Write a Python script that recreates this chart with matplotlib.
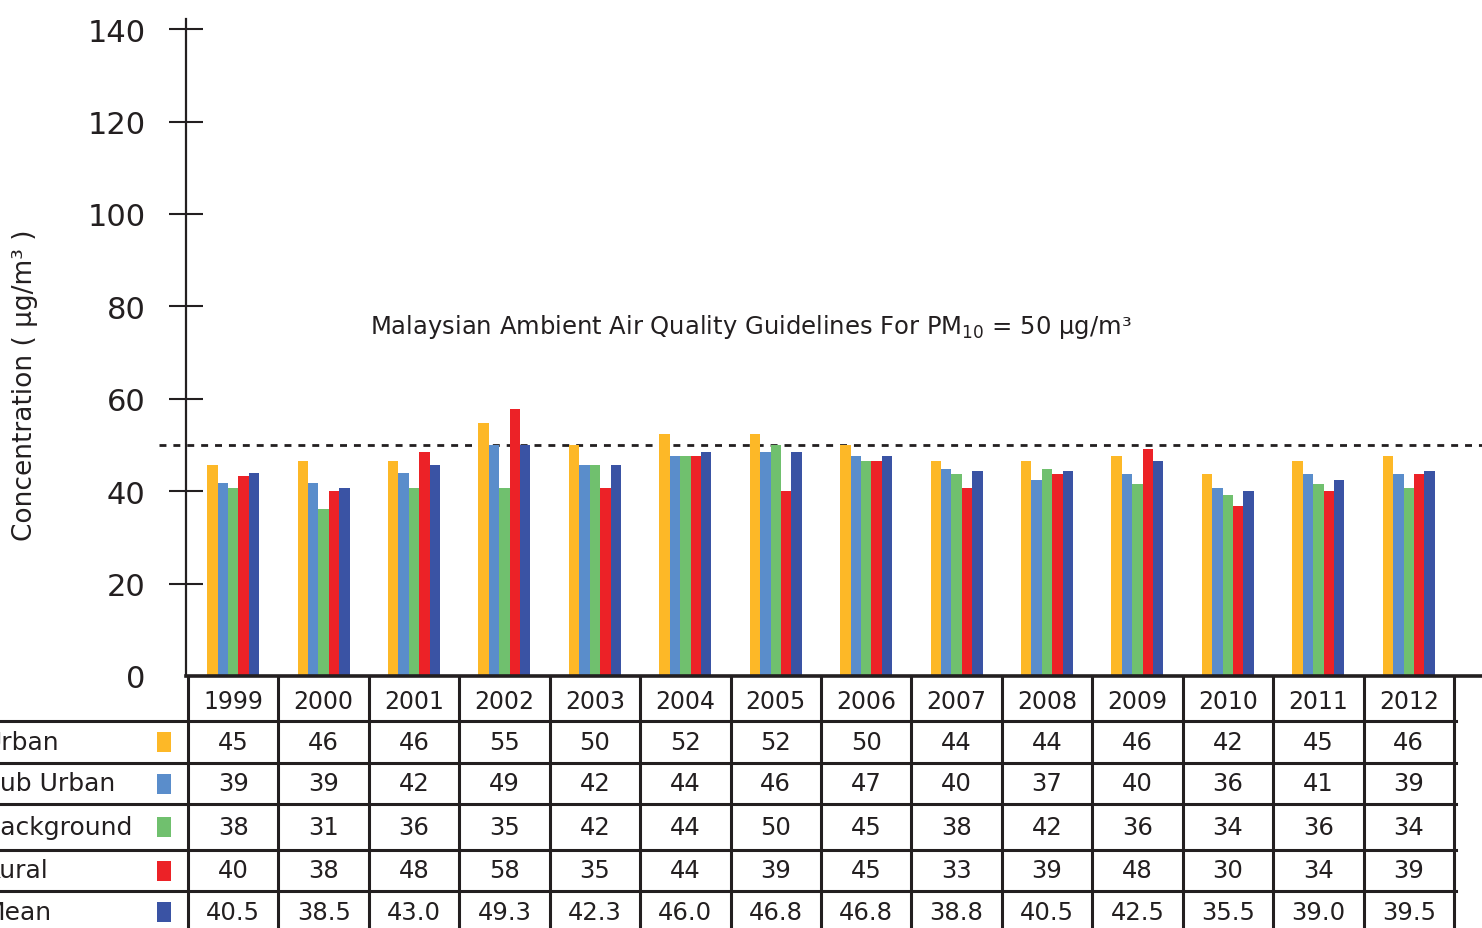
import matplotlib
matplotlib.use('Agg')
import matplotlib.pyplot as plt
import matplotlib.transforms as mtransforms
from matplotlib.patches import Rectangle
import numpy as np

# Data
years = ['1999', '2000', '2001', '2002', '2003', '2004', '2005',
         '2006', '2007', '2008', '2009', '2010', '2011', '2012']
series_names = ['Urban', 'Sub Urban', 'Background', 'Rural', 'Mean']

# values printed in the table
table_urban = [45, 46, 46, 55, 50, 52, 52, 50, 44, 44, 46, 42, 45, 46]
table_sub_urban = [39, 39, 42, 49, 42, 44, 46, 47, 40, 37, 40, 36, 41, 39]
table_background = [38, 31, 36, 35, 42, 44, 50, 45, 38, 42, 36, 34, 36, 34]
table_rural = [40, 38, 48, 58, 35, 44, 39, 45, 33, 39, 48, 30, 34, 39]
table_mean = [40.5, 38.5, 43.0, 49.3, 42.3, 46.0, 46.8, 46.8, 38.8, 40.5, 42.5, 35.5, 39.0, 39.5]

# bar heights as drawn in the chart (read against the y axis)
bar_urban = [45.7, 46.5, 46.5, 54.8, 50.0, 52.4, 52.4, 50.0, 46.5, 46.5, 47.6, 43.7, 46.5, 47.6]
bar_sub_urban = [41.8, 41.8, 43.9, 50.0, 45.7, 47.6, 48.5, 47.6, 44.8, 42.4, 43.7, 40.7, 43.7, 43.7]
bar_background = [40.7, 36.1, 40.7, 40.7, 45.7, 47.6, 50.0, 46.5, 43.7, 44.8, 41.6, 39.2, 41.6, 40.7]
bar_rural = [43.3, 40.0, 48.5, 57.8, 40.7, 47.6, 40.0, 46.5, 40.7, 43.7, 49.1, 36.8, 40.0, 43.7]
bar_mean = [43.9, 40.7, 45.7, 50.0, 45.7, 48.5, 48.5, 47.6, 44.4, 44.4, 46.5, 40.0, 42.4, 44.4]

guideline = 50
y_ticks = [0, 20, 40, 60, 80, 100, 120, 140]

colors = ['#FDB827', '#5A8DCB', '#70C06E', '#EC2227', '#3A53A4']
dark = '#231f20'

W, H = 1482, 929
fig = plt.figure(figsize=(W / 100, H / 100), dpi=100)
plt.rcParams['font.family'] = 'DejaVu Sans'

# Main axes (pixel layout)
ax = fig.add_axes([186 / W, 1 - 677 / H, (W - 186) / W, 657 / H])

x = np.arange(len(years))
width = 0.115
bars = [bar_urban, bar_sub_urban, bar_background, bar_rural, bar_mean]
for k, vals in enumerate(bars):
    ax.bar(x + (k - 2) * width, vals, width, color=colors[k], linewidth=0, zorder=2)

ax.set_xlim(-0.522, 13.81)
ax.set_ylim(0, 142.2)

# Axis styling
for side in ['top', 'right']:
    ax.spines[side].set_visible(False)
ax.spines['left'].set_linewidth(1.6)
ax.spines['left'].set_color(dark)
ax.spines['bottom'].set_linewidth(2.6)
ax.spines['bottom'].set_color(dark)
ax.set_xticks([])
ax.set_yticks(y_ticks)
ax.set_yticklabels([str(t) for t in y_ticks])
ax.tick_params(axis='y', direction='inout', length=24.5, width=1.5, color=dark,
               pad=17, labelsize=22, labelcolor=dark)
ax.yaxis.get_major_ticks()[0].tick1line.set_visible(False)

# Guideline
ax.axhline(guideline, xmin=-0.021, xmax=1, color=dark, linewidth=2,
           linestyle=(0, (2.5, 2.5)), clip_on=False, zorder=1)
ax.text(1.51, 75.8, 'Malaysian Ambient Air Quality Guidelines For PM$_{10}$ = 50 µg/m³',
        ha='left', va='center', fontsize=17.5, color=dark)

fig.text(25 / W, 1 - 385 / H, 'Concentration ( µg/m³ )', rotation=90,
         ha='center', va='center', fontsize=19, color=dark)

# Table below the chart (row labels run off the left edge, as in the source)
trans = mtransforms.blended_transform_factory(ax.transData, fig.transFigure)
row_edges = [722, 764, 805, 851, 892, 934]
line_kw = dict(color=dark, linewidth=2.2, clip_on=False)

for i in range(len(years) + 1):
    fig.add_artist(plt.Line2D([i - 0.5, i - 0.5], [1 - 679 / H, 0], transform=trans, **line_kw))
for yp in row_edges[:-1]:
    fig.add_artist(plt.Line2D([0, 1456 / W], [1 - yp / H, 1 - yp / H],
                              transform=fig.transFigure, **line_kw))

for i, yr in enumerate(years):
    fig.text(i, 1 - 702 / H, yr, transform=trans, ha='center', va='center',
             fontsize=17, color=dark)

table_rows = [table_urban, table_sub_urban, table_background, table_rural, table_mean]
for r, (name, vals) in enumerate(zip(series_names, table_rows)):
    yc = 1 - (row_edges[r] + row_edges[r + 1]) / 2 / H
    fig.text(-16 / W, yc, name, ha='left', va='center', fontsize=18, color=dark)
    fig.add_artist(Rectangle((157 / W, yc - 10 / H), 14 / W, 20 / H,
                             transform=fig.transFigure, color=colors[r], linewidth=0))
    for i, v in enumerate(vals):
        label = f'{v:.1f}' if name == 'Mean' else str(v)
        fig.text(i, yc, label, transform=trans, ha='center', va='center',
                 fontsize=17.5, color=dark)

plt.savefig('out.png', dpi=100)
